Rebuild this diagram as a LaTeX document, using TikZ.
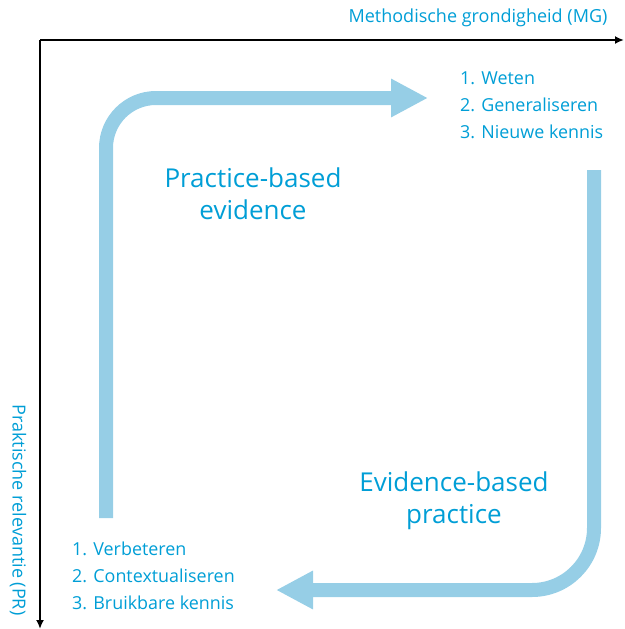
\documentclass[tikz,border=0pt]{standalone}
\usepackage{fontspec}
\setmainfont{Open Sans}[Ligatures=NoCommon]
\usetikzlibrary{arrows.meta}
\usetikzlibrary{positioning}
\definecolor{tekst}{RGB}{0,158,214}
\definecolor{pijl}{RGB}{150,206,230}
\tikzset{>=latex}
\tikzset{
  axis/.style={draw=black,line width=2pt,-{Latex[length=9pt,width=8pt]}},
  flow/.style={draw=pijl,line width=14pt,-{Triangle[length=37pt,width=36pt]}},
  lijst/.style={text=tekst,align=left,inner sep=0pt,anchor=north west,
    font=\fontsize{17.9}{27}\selectfont},
  kop/.style={text=tekst,align=center,inner sep=0pt,
    font=\fontsize{26}{32}\selectfont},
  aslabel/.style={text=tekst,inner sep=0pt,font=\fontsize{18}{20}\selectfont}
}

\begin{document}
\begin{tikzpicture}[x=1pt,y=-1pt]
    \useasboundingbox (0,0) rectangle (624,629);
    % axes
    \coordinate (origin) at (40,40);
    \coordinate (mgend) at (624,40);
    \coordinate (prend) at (40,629);
    \draw [axis] (origin) -- (mgend);
    \draw [axis] (origin) -- (prend);
    \node at (478,18) [aslabel] (mg) {Methodische grondigheid (MG)};
    \node at (18,510) [aslabel,rotate=-90] (pr) {Praktische relevantie (PR)};
    % lists
    \node at (460,72) [lijst] (kennis) {1. Weten\\2. Generaliseren\\3. Nieuwe kennis};
    \node at (72,542) [lijst] (praktijk) {1. Verbeteren\\2. Contextualiseren\\3. Bruikbare kennis};
    % flows
    \coordinate (pbstart) at (106,518);
    \coordinate (pbtip) at (428,98);
    \coordinate (ebstart) at (594,170);
    \coordinate (ebtip) at (276,590);
    \draw [flow,rounded corners=50pt] (pbstart) |- (pbtip);
    \draw [flow,rounded corners=62pt] (ebstart) |- (ebtip);
    \node at (253,194) [kop] (pbe) {Practice-based\\evidence};
    \node at (454,501) [kop] (ebp) {Evidence-based\\practice};
\end{tikzpicture}
\end{document}
